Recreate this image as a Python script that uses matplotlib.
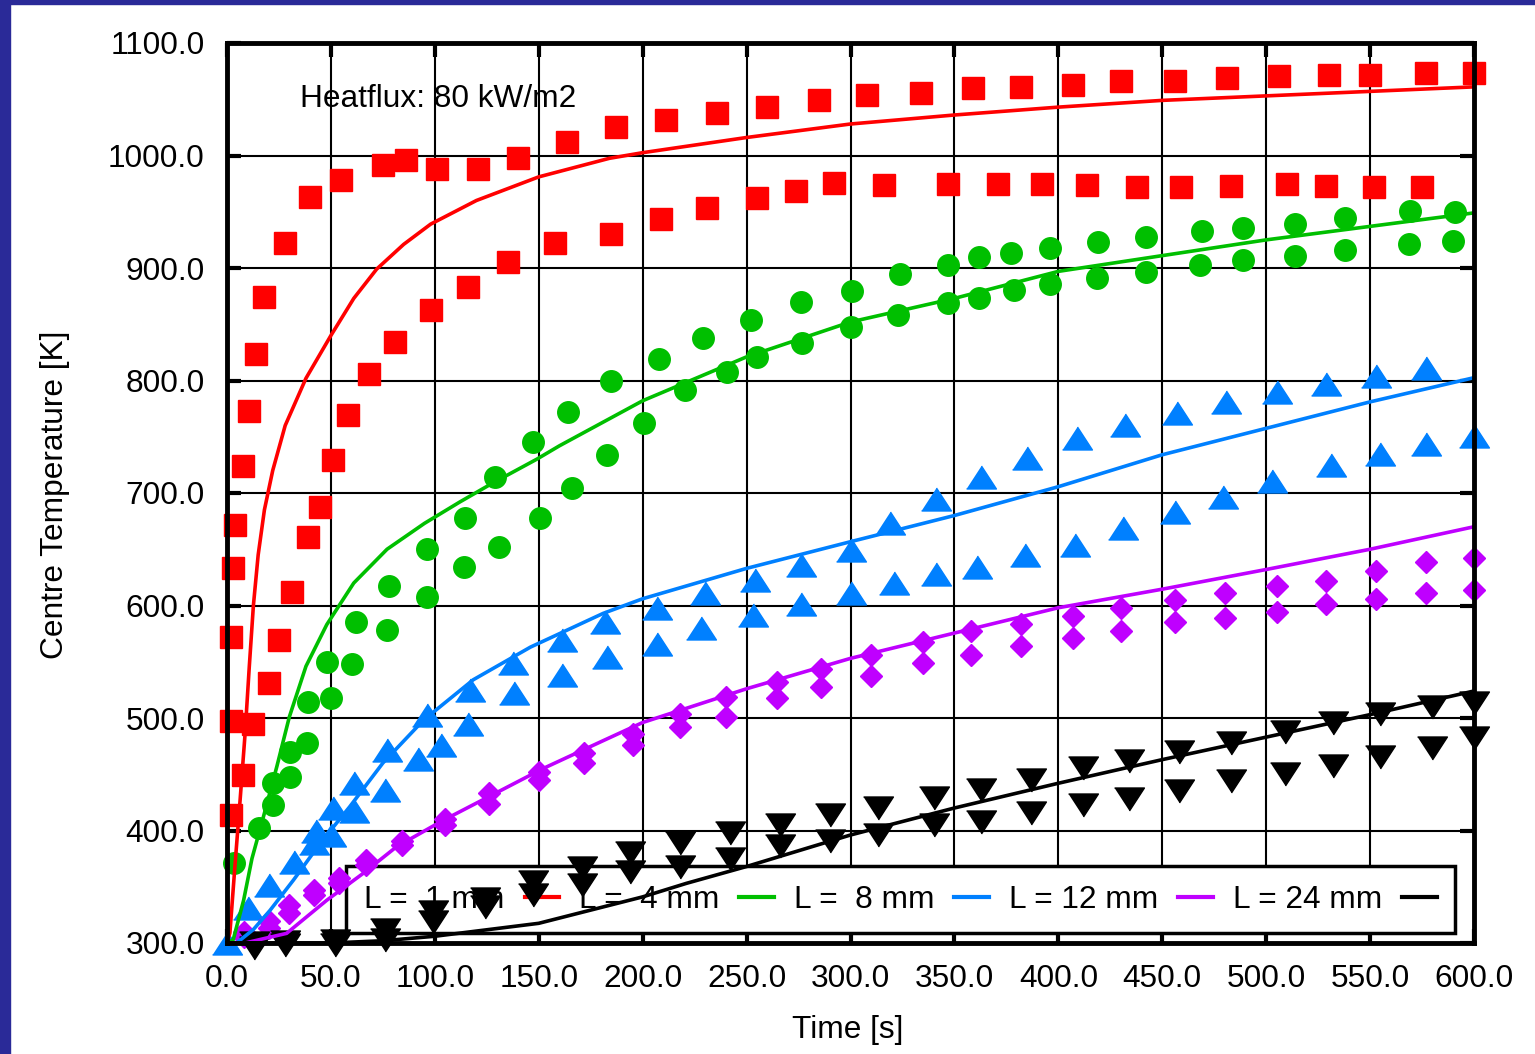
import matplotlib.pyplot as plt
from matplotlib.lines import Line2D
from matplotlib.patches import Rectangle

plt.rcParams['font.family'] = ['Liberation Sans', 'DejaVu Sans']

# measured centre temperatures, two runs per thickness
red_a_t = [2, 2, 3, 4, 7.5, 10.5, 14, 18, 28, 40, 55, 75, 86, 101, 121, 140, 163.5, 187, 211, 236,
           260, 285, 308, 334, 359, 382, 407, 430, 456, 481, 506, 530, 550, 577, 600]
red_a_T = [497, 572, 633, 672, 724, 773, 824, 874, 922, 963, 978, 992, 996, 988, 988, 998, 1012, 1025,
           1032, 1038, 1043, 1049, 1054, 1056, 1060, 1061, 1063, 1066, 1066, 1069, 1071, 1072, 1072,
           1073, 1073]
red_b_t = [2, 7.5, 12.7, 20, 25, 31.4, 38.8, 44.8, 51, 58, 68.3, 81, 98, 116, 135, 158, 185, 208.7,
           231, 255, 274, 292, 316, 347, 371, 392, 414, 438, 459, 483, 510, 529, 552, 575]
red_b_T = [414, 449, 495, 531, 569, 612, 661, 688, 729, 769, 806, 834.5, 863, 883, 905, 922, 930.5,
           943.5, 953.6, 962, 968.7, 975.3, 973.8, 974.5, 974.5, 974.5, 973.8, 972.3, 972.3, 973,
           974.7, 973, 972.3, 972.3]

green_a_t = [3.4, 15.4, 22.3, 30.3, 38.8, 48, 62, 78, 96, 114.5, 129, 147.4, 164, 185, 208, 229, 252,
             276, 300.6, 323.6, 347, 362, 377, 396, 419, 442, 469, 489, 514, 538, 569, 591]
green_a_T = [371, 402, 442, 470, 514.5, 549.5, 585, 617, 650, 678, 714, 745, 772, 800, 819, 838, 854,
             869.5, 879.6, 894.4, 902.7, 909.5, 913, 918, 923.4, 928, 933, 936, 939, 944.6, 951, 949.5]
green_b_t = [22.3, 30.3, 38.3, 50, 60, 77, 96, 114, 130.7, 150.6, 166, 183, 200.8, 220.6, 240.8, 255,
             276.7, 300.3, 323, 347, 361.6, 378.8, 395.8, 418.5, 442.4, 468, 489, 514, 538, 568.5, 590]
green_b_T = [423, 448, 477.5, 517.5, 548, 578, 608, 634, 652, 678, 704.5, 734, 762, 791.6, 808, 821,
             833.6, 848, 858, 868.6, 873.6, 880.4, 885.5, 891, 896.7, 902.4, 907.3, 910.7, 916, 921, 924]

blue_a_t = [0, 10, 20, 32, 43, 51, 61, 77, 96, 117, 137.5, 161, 182, 207, 230, 254, 276, 300, 319, 341,
            363, 385, 409, 432, 457, 480.5, 505, 529, 553, 577]
blue_a_T = [300, 331, 352, 372, 400, 420, 442, 472, 503, 525, 549, 569, 585.5, 597.5, 611, 623, 636,
            649, 673, 695, 714.5, 731, 748.6, 760.4, 771, 781, 789.5, 797, 804, 811]
blue_b_t = [42, 50, 61, 76, 92, 103, 116, 138, 161, 183, 207, 228, 253, 276, 300, 321, 341, 361, 384,
            408, 431, 456, 479, 503, 531, 555, 577, 600]
blue_b_T = [389, 396, 417, 436, 464, 476, 495, 522, 538, 554.5, 566, 580, 592, 601, 611, 620, 628, 634,
            645, 654, 668.6, 683.4, 696.7, 711, 725, 735, 743.6, 750.7]

mag_t = [8, 20, 30, 42, 54, 67, 84, 105, 126, 150, 172, 195.5, 218, 240, 264.5, 286, 310, 335, 358,
         382, 407, 430, 456, 480, 505, 529, 553, 577, 600]
mag_a_T = [310, 320, 334, 347, 358, 374, 391, 410, 433, 452, 469, 486, 504, 519, 532, 544, 556, 568,
           577, 584, 591, 598, 605, 611, 617, 622, 631, 639, 642]
mag_b_T = [305, 313, 327, 343, 353, 369, 387, 405, 424, 445, 460, 476, 492, 501, 517.5, 528, 537, 549,
           556, 564, 571, 577, 585, 589, 594, 601, 606, 611, 614]

black_t = [13, 28, 52, 76, 99, 124, 147, 171, 194, 218, 242, 266, 290, 313, 340, 363, 387, 412, 434,
           458, 483, 509, 532, 555, 580, 600]
black_a_T = [300, 301, 302, 312, 328, 339, 354, 367, 380, 389, 398, 405, 414, 420, 429, 436, 445, 456,
             462, 470, 478, 488, 496, 504, 510, 513]
black_b_T = [296, 298, 298, 303, 319, 332, 343, 352, 363, 368, 375, 386, 391, 396, 405, 408, 416, 423,
             428, 435, 444, 450, 457, 465, 473, 482]

# model predictions
red_line_t = [0, 1.4, 3.8, 6.3, 8.7, 10.7, 12.7, 15, 18, 22, 28, 38, 50, 61, 72, 85, 98, 120, 150, 184,
              200, 250, 300, 350, 400, 450, 500, 550, 600]
red_line_T = [300, 309, 368, 427, 486, 545, 600, 645, 685, 720, 760, 802, 840, 873, 899, 921, 939, 960,
              981, 997.5, 1002.5, 1016, 1028, 1036, 1043, 1049, 1053, 1057, 1061]
green_line_t = [0, 3, 8, 12, 17.5, 24, 30, 38, 48, 61, 77, 95, 112, 128, 149, 160, 184, 200, 250, 300,
                350, 400, 450, 500, 550, 600]
green_line_T = [300, 303, 338, 375, 412, 457, 501, 546, 583, 620, 650, 673, 692, 709, 730, 742, 766,
                782, 821, 852, 873, 897, 911, 925, 937, 949]
blue_line_t = [0, 4.6, 12.7, 20.7, 32, 45, 59, 75, 94.5, 118.5, 146, 181, 200, 250, 300, 350, 400, 450,
               500, 550, 600]
blue_line_T = [300, 300, 312, 329, 356, 389, 421, 460, 498, 534, 563, 593, 606, 633, 656.7, 680, 705.6,
               734, 757.5, 781, 802.5]
mag_line_t = [0, 8.7, 28.7, 48, 65.6, 81.6, 104, 128, 152, 180, 200, 250, 300, 350, 400, 450, 500, 550,
              600]
mag_line_T = [300, 300, 308.6, 338, 362, 385.6, 409, 432, 455, 479, 496, 526, 553, 575.5, 598, 614.5,
              632, 650, 670]
black_line_t = [0, 50, 75, 100, 150, 200, 221, 250, 300, 350, 400, 450, 500, 550, 600]
black_line_T = [300, 300, 302, 306, 317.5, 341, 353, 368, 396, 420, 442, 463, 483, 503, 524]

labels = ['L =  1 mm', 'L =  4 mm', 'L =  8 mm', 'L = 12 mm', 'L = 24 mm']
colors = ['#ff0000', '#00bf00', '#0080ff', '#bf00ff', '#000000']

# wide triangles, as in the measured-data symbols
up_tri = [(-1.3, -1), (1.3, -1), (0, 1)]
down_tri = [(-1.3, 1), (1.3, 1), (0, -1)]

FS = 22.8

fig = plt.figure(figsize=(15.35, 10.54), dpi=100, facecolor='white')
fig.patches.append(Rectangle((0, 0), 10 / 1535, 1, transform=fig.transFigure,
                             color='#2a2a98', zorder=-1))
fig.patches.append(Rectangle((0, 1 - 4 / 1054), 1, 4 / 1054, transform=fig.transFigure,
                             color='#2a2a98', zorder=-1))

ax = fig.add_axes([227 / 1535, 1 - 943 / 1054, 1247 / 1535, 900 / 1054])

mk = dict(linestyle='none', clip_on=False, zorder=2.2)
ax.plot(red_a_t, red_a_T, marker='s', ms=16.5, color=colors[0], **mk)
ax.plot(red_b_t, red_b_T, marker='s', ms=16.5, color=colors[0], **mk)
ax.plot(green_a_t, green_a_T, marker='o', ms=15.5, color=colors[1], **mk)
ax.plot(green_b_t, green_b_T, marker='o', ms=15.5, color=colors[1], **mk)
ax.plot(blue_a_t, blue_a_T, marker=up_tri, ms=21.5, color=colors[2], **mk)
ax.plot(blue_b_t, blue_b_T, marker=up_tri, ms=21.5, color=colors[2], **mk)
ax.plot(mag_t, mag_a_T, marker='D', ms=11.7, color=colors[3], **mk)
ax.plot(mag_t, mag_b_T, marker='D', ms=11.7, color=colors[3], **mk)
ax.plot(black_t, black_a_T, marker=down_tri, ms=21.5, color=colors[4], **mk)
ax.plot(black_t, black_b_T, marker=down_tri, ms=21.5, color=colors[4], **mk)

line_sets = [(red_line_t, red_line_T), (green_line_t, green_line_T), (blue_line_t, blue_line_T),
             (mag_line_t, mag_line_T), (black_line_t, black_line_T)]
for (t, T), c in zip(line_sets, colors):
    ax.plot(t, T, color=c, lw=2.6, zorder=2.4, solid_joinstyle='round')

ax.set_xlim(0, 600)
ax.set_ylim(300, 1100)
ax.set_xticks(range(0, 601, 50))
ax.set_yticks(range(300, 1101, 100))
ax.set_xticklabels([f'{v:.1f}' for v in range(0, 601, 50)])
ax.set_yticklabels([f'{v:.1f}' for v in range(300, 1101, 100)])
ax.tick_params(direction='in', length=10, width=3, top=True, right=True,
               labelsize=FS, pad=15)
ax.tick_params(axis='y', pad=16)
ax.set_axisbelow(True)
ax.grid(True, color='black', lw=1.5)
for s in ax.spines.values():
    s.set_linewidth(3.5)
    s.set_zorder(3)

ax.text(0.0585, 0.938, 'Heatflux: 80 kW/m2', transform=ax.transAxes, fontsize=FS,
        ha='left', va='center')

fig.text(55 / 1535, 1 - 495 / 1054, 'Centre Temperature [K]', rotation=90, fontsize=FS,
         ha='center', va='center')
fig.text(848 / 1535, 1 - 1030 / 1054, 'Time [s]', fontsize=FS, ha='center', va='center')

handles = [Line2D([], [], color=c, lw=3) for c in colors]
leg = ax.legend(handles, labels, ncol=5, loc='lower left', markerfirst=False,
                bbox_to_anchor=(0.0954, 0.0111, 0.8894, 0.0745), mode='expand',
                borderaxespad=0, fontsize=FS, handlelength=1.1, handletextpad=0.63,
                borderpad=0.58, fancybox=False, framealpha=1, edgecolor='black')
leg.get_frame().set_linewidth(2.5)
leg.set_zorder(1)

fig.savefig('out.png', dpi=100, facecolor='white')
